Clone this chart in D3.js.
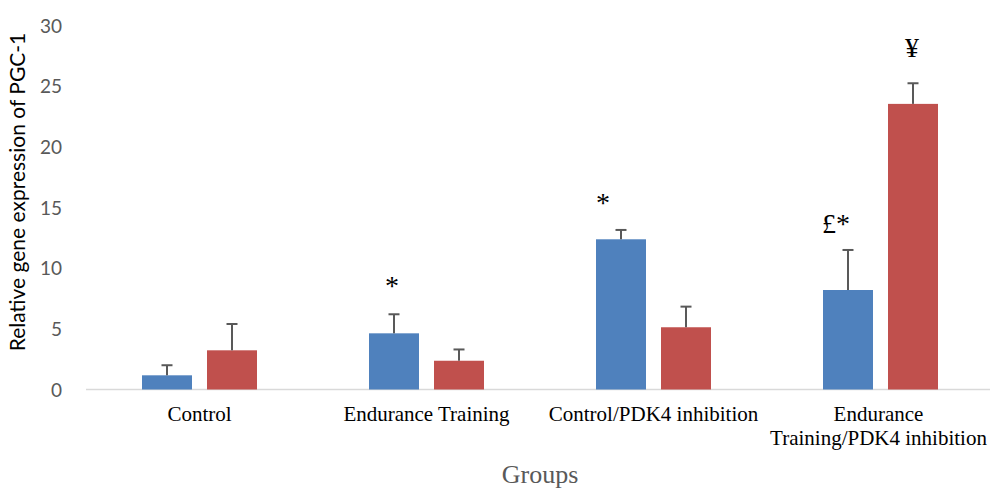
<!DOCTYPE html>
<html><head><meta charset="utf-8">
<script src="https://cdn.jsdelivr.net/npm/d3@7"></script>
<style>body{margin:0;background:#fff}svg{display:block}</style>
</head><body><svg id="c" width="993" height="488"></svg>
<script>
const categories = [["Control"], ["Endurance Training"], ["Control/PDK4 inhibition"], ["Endurance", "Training/PDK4 inhibition"]];
const series = ["s1", "s2"];
const blueValues = [1.17, 4.63, 12.38, 8.2];
const blueErrors = [0.83, 1.57, 0.77, 3.3];
const redValues = [3.23, 2.37, 5.13, 23.54];
const redErrors = [2.17, 0.93, 1.7, 1.7];
const yTicks = [0, 5, 10, 15, 20, 25, 30];
const annotations = [
  {cat: 1, s: "s1", text: "*", y: 7.8},
  {cat: 2, s: "s1", text: "*", y: 14.65},
  {cat: 3, s: "s1", text: "£*", y: 12.9},
  {cat: 3, s: "s2", text: "¥", y: 27.4}
];
const annotationDx = [-2, -18, -12, -1];
const colors = {s1: "#4f81bd", s2: "#c0504d"};

const svg = d3.select("#c");
const catKeys = categories.map((c, i) => i);
const x0 = d3.scaleBand().domain(catKeys).range([86, 994]).padding(0);
const x1 = d3.scaleBand().domain(series).range([56, 171]).paddingInner(0.231).paddingOuter(0);
const y = d3.scaleLinear().domain([0, 30]).range([389.5, 25.5]);

// y tick labels
const yAxis = d3.axisLeft(y).tickValues(yTicks).tickSize(0).tickPadding(0);
const yg = svg.append("g").attr("transform", "translate(62,0)").call(yAxis);
yg.select(".domain").remove();
yg.selectAll("text").attr("font-family", "Lato, 'Open Sans', sans-serif").attr("font-size", 19).attr("fill", "#595959").attr("dy", "0.35em");

// baseline
const xAxis = d3.axisBottom(x0).tickSize(0).tickFormat("");
const xg = svg.append("g").attr("transform", `translate(0,${y(0)})`).call(xAxis);
xg.select(".domain").attr("stroke", "#d9d9d9").attr("stroke-width", 1.5).attr("d", "M86,0H990");

const data = [];
catKeys.forEach(i => {
  data.push({cat: i, s: "s1", v: blueValues[i], e: blueErrors[i]});
  data.push({cat: i, s: "s2", v: redValues[i], e: redErrors[i]});
});

svg.append("g").selectAll("rect").data(data).join("rect")
  .attr("x", d => x0(d.cat) + x1(d.s))
  .attr("width", x1.bandwidth())
  .attr("y", d => y(d.v))
  .attr("height", d => y(0) - y(d.v))
  .attr("fill", d => colors[d.s]);

const eg = svg.append("g").attr("stroke", "#595959").attr("stroke-width", 2);
data.forEach(d => {
  const cx = x0(d.cat) + x1(d.s) + x1.bandwidth() / 2;
  eg.append("line").attr("x1", cx).attr("x2", cx).attr("y1", y(d.v)).attr("y2", y(d.v + d.e));
  eg.append("line").attr("x1", cx - 5.5).attr("x2", cx + 5.5).attr("y1", y(d.v + d.e)).attr("y2", y(d.v + d.e));
});

// annotations
svg.append("g").selectAll("text").data(annotations).join("text")
  .attr("x", (d, i) => x0(d.cat) + x1(d.s) + x1.bandwidth() / 2 + annotationDx[i])
  .attr("y", d => y(d.y))
  .attr("text-anchor", "middle")
  .attr("font-family", "'Liberation Serif', 'Times New Roman', serif")
  .attr("font-size", 28)
  .attr("fill", "#000")
  .text(d => d.text);

// category labels
const cl = svg.append("g");
categories.forEach((lines, i) => {
  const cx = x0(i) + x0.bandwidth() / 2 - (i === 3 ? 2 : 0);
  const t = cl.append("text")
    .attr("x", cx)
    .attr("y", 421)
    .attr("text-anchor", "middle")
    .attr("font-family", "'Liberation Serif', 'Times New Roman', serif")
    .attr("font-size", 21)
    .attr("fill", "#000");
  lines.forEach((l, j) => t.append("tspan").attr("x", cx).attr("dy", j === 0 ? 0 : 24).text(l));
});

// axis titles
svg.append("text").attr("x", 540).attr("y", 483).attr("text-anchor", "middle")
  .attr("font-family", "'Liberation Serif', 'Times New Roman', serif").attr("font-size", 26).attr("fill", "#595959").text("Groups");
svg.append("text").attr("transform", "translate(25,192) rotate(-90)").attr("text-anchor", "middle")
  .attr("font-family", "Lato, 'Open Sans', sans-serif").attr("font-size", 21).attr("fill", "#000").text("Relative gene expression of PGC-1");
</script></body></html>
